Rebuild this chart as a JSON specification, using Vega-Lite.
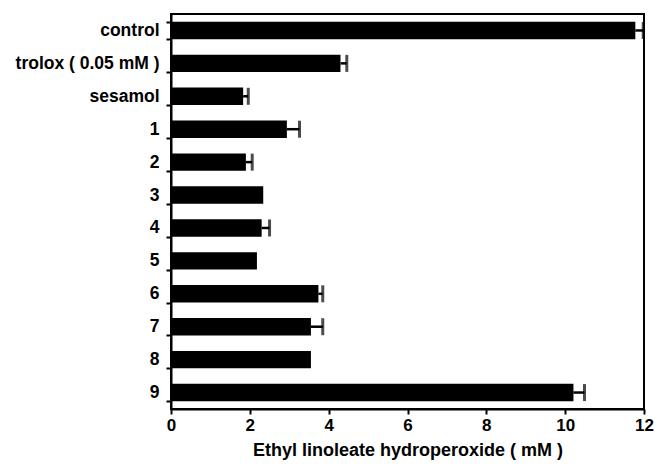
{
  "$schema": "https://vega.github.io/schema/vega-lite/v6.json",
  "autosize": "none",
  "width": 473,
  "height": 395,
  "padding": {"left": 171, "top": 14, "right": 11, "bottom": 55},
  "background": "white",
  "config": {
    "view": {"stroke": "black", "strokeWidth": 2},
    "font": "Liberation Sans",
    "axis": {"labelFont": "Liberation Sans", "titleFont": "Liberation Sans", "labelFontWeight": "bold", "titleFontWeight": "bold", "labelColor": "black", "titleColor": "black", "domainColor": "black", "tickColor": "black", "domainWidth": 2, "tickWidth": 2}
  },
  "data": {
    "values": [
      {"sample": "control", "value": 11.78, "err": 0.2},
      {"sample": "trolox ( 0.05 mM )", "value": 4.3, "err": 0.16},
      {"sample": "sesamol", "value": 1.83, "err": 0.13},
      {"sample": "1", "value": 2.94, "err": 0.32},
      {"sample": "2", "value": 1.9, "err": 0.16},
      {"sample": "3", "value": 2.34, "err": 0},
      {"sample": "4", "value": 2.3, "err": 0.2},
      {"sample": "5", "value": 2.18, "err": 0},
      {"sample": "6", "value": 3.74, "err": 0.11},
      {"sample": "7", "value": 3.55, "err": 0.3},
      {"sample": "8", "value": 3.55, "err": 0},
      {"sample": "9", "value": 10.21, "err": 0.28}
    ]
  },
  "encoding": {
    "y": {
      "field": "sample", "type": "nominal", "sort": null,
      "scale": {"paddingInner": 0.47, "paddingOuter": 0.235},
      "axis": {"title": null, "tickBand": "extent", "tickSize": 5, "labelPadding": 7, "labelFontSize": 17.5, "domain": true}
    }
  },
  "layer": [
    {
      "mark": {"type": "bar", "color": "black"},
      "encoding": {
        "x": {
          "field": "value", "type": "quantitative",
          "scale": {"domain": [0, 12], "nice": false},
          "axis": {"title": "Ethyl linoleate hydroperoxide ( mM )", "values": [0, 2, 4, 6, 8, 10, 12], "grid": false, "tickSize": 5, "labelPadding": 3, "labelFontSize": 17, "titleFontSize": 18, "titlePadding": 8, "labelFlush": false}
        }
      }
    },
    {
      "transform": [{"filter": "datum.err > 0"}, {"calculate": "datum.value + datum.err", "as": "hi"}],
      "mark": {"type": "rule", "color": "black", "strokeWidth": 2.5},
      "encoding": {"x": {"field": "value", "type": "quantitative"}, "x2": {"field": "hi"}}
    },
    {
      "transform": [{"filter": "datum.err > 0"}, {"calculate": "datum.value + datum.err", "as": "hi"}],
      "mark": {"type": "tick", "color": "black", "orient": "vertical", "thickness": 3, "size": 17},
      "encoding": {"x": {"field": "hi", "type": "quantitative"}}
    }
  ]
}
